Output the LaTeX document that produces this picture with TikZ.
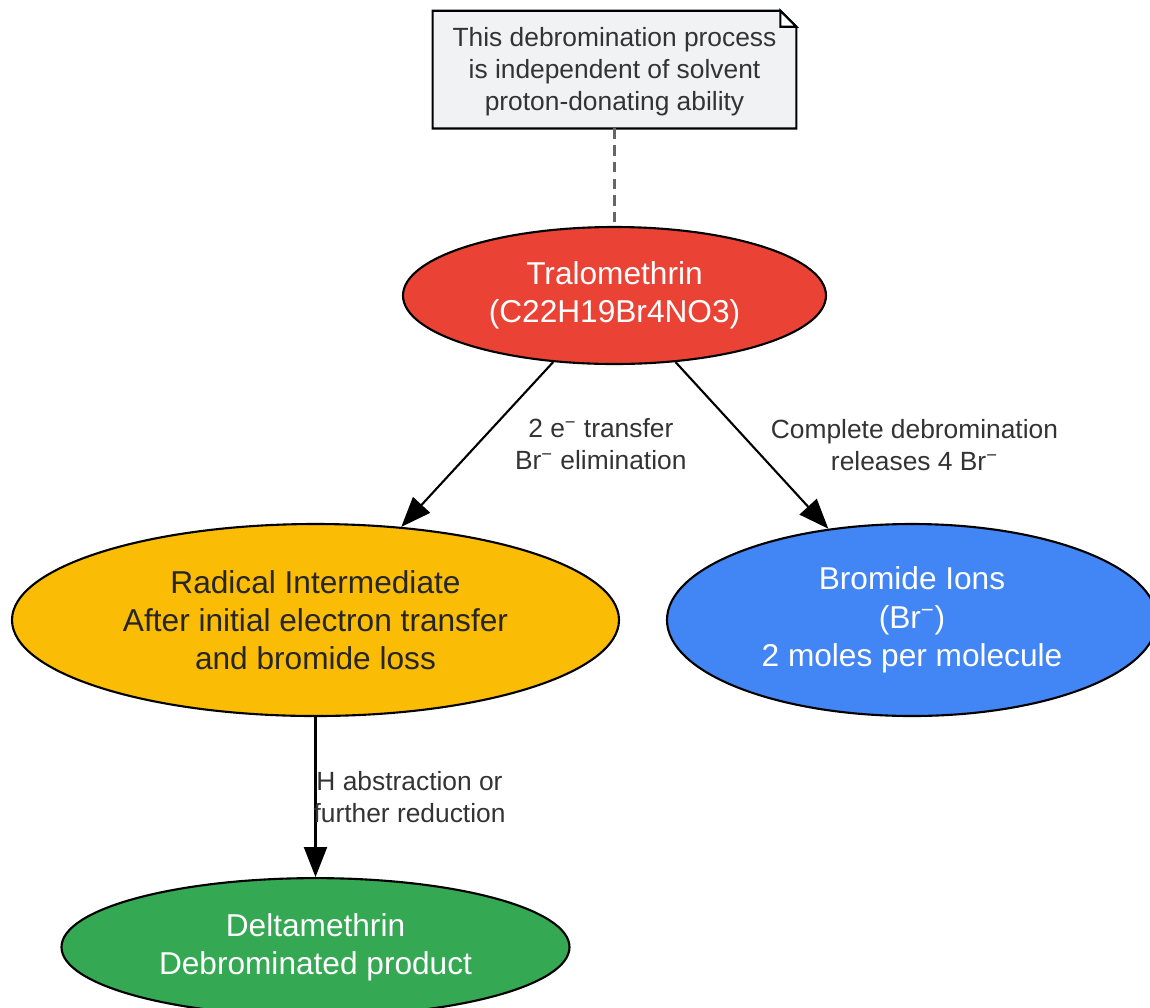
\documentclass[tikz,border=0pt]{standalone}
\usepackage{fontspec}
\setmainfont{Liberation Sans}
\usetikzlibrary{shapes.geometric, arrows.meta, positioning, backgrounds}
\definecolor{tred}{HTML}{EA4335}
\definecolor{tyellow}{HTML}{FBBC05}
\definecolor{tblue}{HTML}{4285F4}
\definecolor{tgreen}{HTML}{34A853}
\definecolor{notefill}{HTML}{F1F2F4}
\definecolor{inkgray}{HTML}{333333}
\tikzstyle{blob} = [ellipse, draw=black, line width=1.2pt, inner sep=2pt, text centered, align=center, font=\fontsize{18}{21.8}\selectfont]
\tikzstyle{lbl} = [align=center, text=inkgray, font=\fontsize{15}{18.2}\selectfont]
\tikzstyle{arrow} = [line width=1.2pt,-{Triangle[length=0.6cm,width=0.46cm]}]

\begin{document}
\begin{tikzpicture}[node distance=1.5cm]
    \useasboundingbox (0,0) rectangle (23,-20.14);

    \node (tralo) [blob, fill=tred, text=white, minimum width=8.46cm, minimum height=2.74cm] at (12.29,-5.91) {Tralomethrin\\(C22H19Br4NO3)};
    \node (note) [lbl, minimum width=7.26cm, minimum height=2.34cm, above=1.9cm of tralo] {This debromination process\\is independent of solvent\\proton-donating ability};
    \node (radical) [blob, fill=tyellow, text={black!85}, minimum width=12.14cm, minimum height=3.84cm] at (6.31,-12.40) {Radical Intermediate\\After initial electron transfer\\and bromide loss};
    \node (bromide) [blob, fill=tblue, text=white, minimum width=9.8cm, minimum height=3.84cm] at (18.24,-12.40) {Bromide Ions\\(Br\textsuperscript{−})\\2 moles per molecule};
    \node (delta) [blob, fill=tgreen, text=white, minimum width=10.16cm, minimum height=2.76cm, below=3.2cm of radical] {Deltamethrin\\Debrominated product};

    \coordinate (notenw) at ([yshift=0.05cm]note.north west);
    \coordinate (notene) at ([yshift=0.05cm]note.north east);
    \coordinate (notese) at ([yshift=0.05cm]note.south east);
    \coordinate (notesw) at ([yshift=0.05cm]note.south west);
    \coordinate (notes) at ([yshift=0.05cm]note.south);

    \begin{scope}[on background layer]
    \draw[line width=1.2pt, fill=notefill, line join=miter] (notenw) -- ([xshift=-0.32cm]notene) -- ([yshift=-0.32cm]notene) -- (notese) -- (notesw) -- cycle;
    \end{scope}
    \draw[line width=1.2pt, fill=white] ([xshift=-0.32cm]notene) -- ([xshift=-0.32cm,yshift=-0.32cm]notene) -- ([yshift=-0.32cm]notene) -- cycle;

    \draw [line width=1.2pt, draw={black!60}, dash pattern=on 6pt off 3.5pt] (notes) -- (tralo);
    \draw [arrow] (tralo) -- node[lbl, anchor=west, xshift=0.62cm] (lbltransfer) {2 e\textsuperscript{−} transfer\\Br\textsuperscript{−} elimination} (radical);
    \draw [arrow] (tralo) -- node[lbl, anchor=west, xshift=0.24cm] (lblrelease) {Complete debromination\\releases 4 Br\textsuperscript{−}} (bromide);
    \draw [arrow] (radical) -- node[lbl, anchor=west, inner sep=0pt, xshift=-0.06cm] (lblreduce) {H abstraction or\\further reduction} (delta);

\end{tikzpicture}
\end{document}
